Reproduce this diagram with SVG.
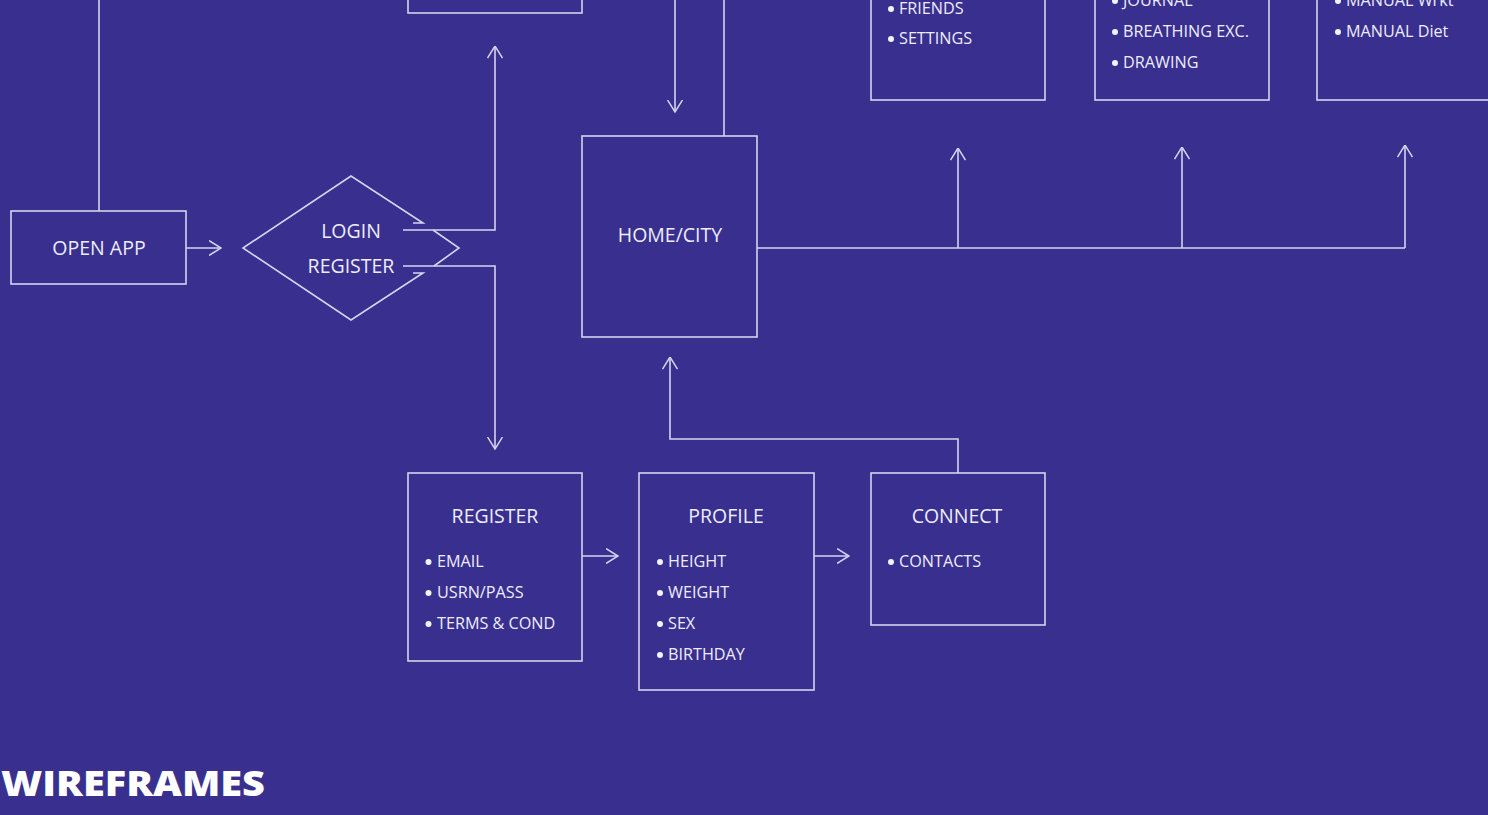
<svg xmlns="http://www.w3.org/2000/svg" width="1488" height="815" viewBox="0 0 1488 815">
<defs>
<marker id="ah" markerUnits="userSpaceOnUse" viewBox="0 0 13 16" refX="12.5" refY="8" markerWidth="13" markerHeight="16" orient="auto">
<path d="M0.5,0.5 L12.5,8 L0.5,15.5" fill="none" stroke="#d6d3ee" stroke-width="1.5"/>
</marker>
<style>
.bx{fill:none;stroke:#d6d3ee;stroke-width:1.6}
.ln{fill:none;stroke:#d6d3ee;stroke-width:1.6}
.ar{fill:none;stroke:#d6d3ee;stroke-width:1.6;marker-end:url(#ah)}
.t{font-family:"Open Sans","Liberation Sans",sans-serif;font-size:19.5px;fill:#eeecf8;text-anchor:middle}
.b{font-family:"Open Sans","Liberation Sans",sans-serif;font-size:16.2px;fill:#eeecf8}
.d{fill:#f4f3fb}
</style>
</defs>
<rect width="1488" height="815" fill="#382f8f"/>

<g id="connectors">
<line class="ln" x1="99" y1="0" x2="99" y2="211"/>
<line class="ar" x1="186" y1="248" x2="221" y2="248"/>
<polyline class="ar" points="403,230 495,230 495,46"/>
<polyline class="ar" points="403,266 495,266 495,449"/>
<line class="ar" x1="675" y1="0" x2="675" y2="112"/>
<line class="ln" x1="724" y1="0" x2="724" y2="136"/>
<line class="ln" x1="757" y1="248" x2="1405" y2="248"/>
<line class="ar" x1="958" y1="248" x2="958" y2="148"/>
<line class="ar" x1="1182" y1="248" x2="1182" y2="147"/>
<line class="ar" x1="1405" y1="248" x2="1405" y2="145"/>
<line class="ar" x1="582" y1="556" x2="618" y2="556"/>
<line class="ar" x1="814" y1="556" x2="849" y2="556"/>
<polyline class="ar" points="958,473 958,439 670,439 670,357"/>
</g>

<g id="top-left-box">
<rect class="bx" x="408" y="-10" width="174" height="23"/>
</g>

<g id="open-app">
<rect class="bx" x="11" y="211" width="175" height="73"/>
<text class="t" x="99" y="255">OPEN APP</text>
</g>

<g id="login-register">
<path class="ln" d="M413,223 L423,223 L351,176 L243,248 L351,320 L423,273 L413,273"/>
<path class="ln" d="M433,230 L459,248 L434,266"/>
<text class="t" x="351" y="238">LOGIN</text>
<text class="t" x="351" y="273">REGISTER</text>
</g>

<g id="home-city">
<rect class="bx" x="582" y="136" width="175" height="201"/>
<text class="t" x="670" y="242">HOME/CITY</text>
</g>

<g id="social-box">
<rect class="bx" x="871" y="-10" width="174" height="110"/>
<circle class="d" cx="891" cy="9" r="3"/><text class="b" x="899" y="14">FRIENDS</text>
<circle class="d" cx="891" cy="39" r="3"/><text class="b" x="899" y="44">SETTINGS</text>
</g>

<g id="mind-box">
<rect class="bx" x="1095" y="-10" width="174" height="110"/>
<circle class="d" cx="1115" cy="1" r="3"/><text class="b" x="1123" y="6">JOURNAL</text>
<circle class="d" cx="1115" cy="32" r="3"/><text class="b" x="1123" y="37">BREATHING EXC.</text>
<circle class="d" cx="1115" cy="63" r="3"/><text class="b" x="1123" y="68">DRAWING</text>
</g>

<g id="manual-box">
<rect class="bx" x="1317" y="-10" width="190" height="110"/>
<circle class="d" cx="1338" cy="1" r="3"/><text class="b" x="1346" y="6">MANUAL Wrkt</text>
<circle class="d" cx="1338" cy="32" r="3"/><text class="b" x="1346" y="37">MANUAL Diet</text>
</g>

<g id="register">
<rect class="bx" x="408" y="473" width="174" height="188"/>
<text class="t" x="495" y="523">REGISTER</text>
<circle class="d" cx="428.5" cy="562" r="3"/><text class="b" x="437" y="567">EMAIL</text>
<circle class="d" cx="428.5" cy="593" r="3"/><text class="b" x="437" y="598">USRN/PASS</text>
<circle class="d" cx="428.5" cy="624" r="3"/><text class="b" x="437" y="629">TERMS &amp; COND</text>
</g>

<g id="profile">
<rect class="bx" x="639" y="473" width="175" height="217"/>
<text class="t" x="726" y="523">PROFILE</text>
<circle class="d" cx="660" cy="562" r="3"/><text class="b" x="668" y="567">HEIGHT</text>
<circle class="d" cx="660" cy="593" r="3"/><text class="b" x="668" y="598">WEIGHT</text>
<circle class="d" cx="660" cy="624" r="3"/><text class="b" x="668" y="629">SEX</text>
<circle class="d" cx="660" cy="655" r="3"/><text class="b" x="668" y="660">BIRTHDAY</text>
</g>

<g id="connect">
<rect class="bx" x="871" y="473" width="174" height="152"/>
<text class="t" x="957" y="523">CONNECT</text>
<circle class="d" cx="891" cy="562" r="3"/><text class="b" x="899" y="567">CONTACTS</text>
</g>

<text x="1" y="796" font-family="'Open Sans','Liberation Sans',sans-serif" font-weight="800" font-size="35" fill="#ffffff" textLength="264" lengthAdjust="spacingAndGlyphs">WIREFRAMES</text>
</svg>
